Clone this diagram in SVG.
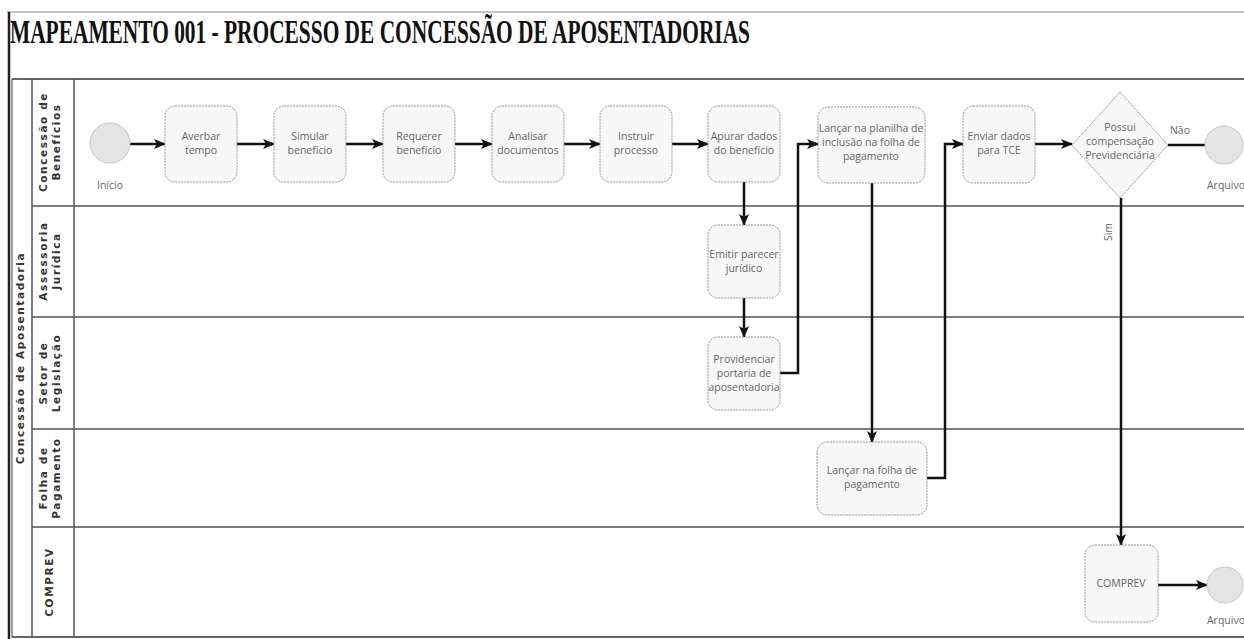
<svg xmlns="http://www.w3.org/2000/svg" width="1244" height="639" viewBox="0 0 1244 639">
<defs>
<marker id="arr" markerWidth="12" markerHeight="10" refX="11" refY="5" orient="auto" markerUnits="userSpaceOnUse">
<path d="M0,0 L12,5 L0,10 L3,5 Z" fill="#111"/>
</marker>
<style>
.frame{fill:none;stroke:#333;stroke-width:1.5}
.lane{fill:none;stroke:#555;stroke-width:1.5}
.task{fill:#f7f7f7;stroke:#999;stroke-width:1;stroke-dasharray:2 1}
.ev{fill:#e4e4e4;stroke:#c8c8c8;stroke-width:1}
.t{font-family:"Open Sans","Liberation Sans",sans-serif;font-size:10.5px;fill:#666;text-anchor:middle}
.lbl{font-family:"Open Sans","Liberation Sans",sans-serif;font-size:10.5px;fill:#666;text-anchor:middle}
.ln{font-family:"DejaVu Sans","Liberation Sans",sans-serif;font-size:10.5px;font-weight:bold;fill:#333;text-anchor:middle;letter-spacing:1.6px}
.c{fill:none;stroke:#111;stroke-width:2.5}
.ca{fill:none;stroke:#111;stroke-width:2.5;marker-end:url(#arr)}
</style>
</defs>
<rect width="1244" height="639" fill="#ffffff"/>
<text x="10" y="43" font-family="Liberation Serif, serif" font-weight="bold" font-size="33" fill="#111" textLength="740" lengthAdjust="spacingAndGlyphs">MAPEAMENTO 001 - PROCESSO DE CONCESSÃO DE APOSENTADORIAS</text>

<g id="pool">
<line x1="7" y1="12" x2="1244" y2="12" stroke="#888" stroke-width="1"/>
<line x1="9" y1="12" x2="9" y2="639" stroke="#222" stroke-width="2.5"/>
<line x1="12" y1="79" x2="12" y2="637" stroke="#444" stroke-width="1"/>
<line x1="12" y1="79" x2="1244" y2="79" class="frame"/>
<line x1="12" y1="637" x2="1244" y2="637" class="frame"/>
<line x1="32" y1="79" x2="32" y2="637" class="lane"/>
<line x1="74" y1="79" x2="74" y2="637" class="lane"/>
<line x1="32" y1="206" x2="1244" y2="206" class="lane"/>
<line x1="32" y1="317" x2="1244" y2="317" class="lane"/>
<line x1="32" y1="429" x2="1244" y2="429" class="lane"/>
<line x1="32" y1="527" x2="1244" y2="527" class="lane"/>
<text class="ln" transform="translate(24,358) rotate(-90)" font-size="11.5">Concessão de Aposentadoria</text>
<text class="ln" transform="translate(47,142) rotate(-90)"><tspan x="0" y="0">Concessão de</tspan><tspan x="0" y="13">Benefícios</tspan></text>
<text class="ln" transform="translate(47,261) rotate(-90)"><tspan x="0" y="0">Assessoria</tspan><tspan x="0" y="13">Jurídica</tspan></text>
<text class="ln" transform="translate(47,373) rotate(-90)"><tspan x="0" y="0">Setor de</tspan><tspan x="0" y="13">Legislação</tspan></text>
<text class="ln" transform="translate(47,478) rotate(-90)"><tspan x="0" y="0">Folha de</tspan><tspan x="0" y="13">Pagamento</tspan></text>
<text class="ln" transform="translate(53,582) rotate(-90)">COMPREV</text>
</g>

<g id="connectors">
<line class="ca" x1="130" y1="144" x2="165" y2="144"/>
<line class="ca" x1="237" y1="144" x2="274" y2="144"/>
<line class="ca" x1="346" y1="144" x2="383" y2="144"/>
<line class="ca" x1="455" y1="144" x2="492" y2="144"/>
<line class="ca" x1="564" y1="144" x2="600" y2="144"/>
<line class="ca" x1="672" y1="144" x2="708" y2="144"/>
<line class="ca" x1="744" y1="182" x2="744" y2="225"/>
<line class="ca" x1="744" y1="298" x2="744" y2="337"/>
<polyline class="ca" points="780,373 798,373 798,144 818,144"/>
<line class="ca" x1="872" y1="183" x2="872" y2="442"/>
<polyline class="ca" points="927,478 945,478 945,144 963,144"/>
<line class="ca" x1="1035" y1="144" x2="1072" y2="144"/>
<line class="c" x1="1168" y1="145" x2="1205" y2="145"/>
<line class="ca" x1="1121" y1="198" x2="1121" y2="545"/>
<line class="ca" x1="1158" y1="585" x2="1207" y2="585"/>
<text class="lbl" x="1180" y="134">Não</text>
<text class="lbl" transform="translate(1112,232) rotate(-90)">Sim</text>
</g>

<g id="inicio"><circle class="ev" cx="110" cy="143" r="20"/><text class="lbl" x="110" y="189">Início</text></g>
<g id="averbar"><rect class="task" x="165" y="106" width="72" height="76" rx="10"/><text class="t" x="201" y="140"><tspan x="201">Averbar</tspan><tspan x="201" dy="14">tempo</tspan></text></g>
<g id="simular"><rect class="task" x="274" y="106" width="72" height="76" rx="10"/><text class="t" x="310" y="140"><tspan x="310">Simular</tspan><tspan x="310" dy="14">benefício</tspan></text></g>
<g id="requerer"><rect class="task" x="383" y="106" width="72" height="76" rx="10"/><text class="t" x="419" y="140"><tspan x="419">Requerer</tspan><tspan x="419" dy="14">benefício</tspan></text></g>
<g id="analisar"><rect class="task" x="492" y="106" width="72" height="76" rx="10"/><text class="t" x="528" y="140"><tspan x="528">Analisar</tspan><tspan x="528" dy="14">documentos</tspan></text></g>
<g id="instruir"><rect class="task" x="600" y="106" width="72" height="76" rx="10"/><text class="t" x="636" y="140"><tspan x="636">Instruir</tspan><tspan x="636" dy="14">processo</tspan></text></g>
<g id="apurar"><rect class="task" x="708" y="106" width="72" height="76" rx="10"/><text class="t" x="744" y="140"><tspan x="744">Apurar dados</tspan><tspan x="744" dy="14">do benefício</tspan></text></g>
<g id="lancar-planilha"><rect class="task" x="818" y="107" width="107" height="76" rx="10"/><text class="t" x="871" y="132"><tspan x="871">Lançar na planilha de</tspan><tspan x="871" dy="14">inclusão na folha de</tspan><tspan x="871" dy="14">pagamento</tspan></text></g>
<g id="enviar"><rect class="task" x="963" y="106" width="72" height="77" rx="10"/><text class="t" x="999" y="140"><tspan x="999">Enviar dados</tspan><tspan x="999" dy="14">para TCE</tspan></text></g>
<g id="decisao"><polygon class="task" points="1120,92 1168,145 1120,198 1072,145"/><text class="t" x="1120" y="131"><tspan x="1120">Possui</tspan><tspan x="1120" dy="14">compensação</tspan><tspan x="1120" dy="14">Previdenciária</tspan></text></g>
<g id="arquivo1"><circle class="ev" cx="1224" cy="145" r="19"/><text class="lbl" x="1226" y="189">Arquivo</text></g>
<g id="emitir"><rect class="task" x="708" y="225" width="72" height="73" rx="10"/><text class="t" x="744" y="258"><tspan x="744">Emitir parecer</tspan><tspan x="744" dy="14">jurídico</tspan></text></g>
<g id="providenciar"><rect class="task" x="708" y="337" width="72" height="73" rx="10"/><text class="t" x="744" y="363"><tspan x="744">Providenciar</tspan><tspan x="744" dy="14">portaria de</tspan><tspan x="744" dy="14">aposentadoria</tspan></text></g>
<g id="lancar-folha"><rect class="task" x="817" y="442" width="110" height="73" rx="10"/><text class="t" x="872" y="474"><tspan x="872">Lançar na folha de</tspan><tspan x="872" dy="14">pagamento</tspan></text></g>
<g id="comprev"><rect class="task" x="1085" y="545" width="73" height="77" rx="10"/><text class="t" x="1121" y="587">COMPREV</text></g>
<g id="arquivo2"><circle class="ev" cx="1225" cy="585" r="18"/><text class="lbl" x="1226" y="624">Arquivo</text></g>
</svg>
